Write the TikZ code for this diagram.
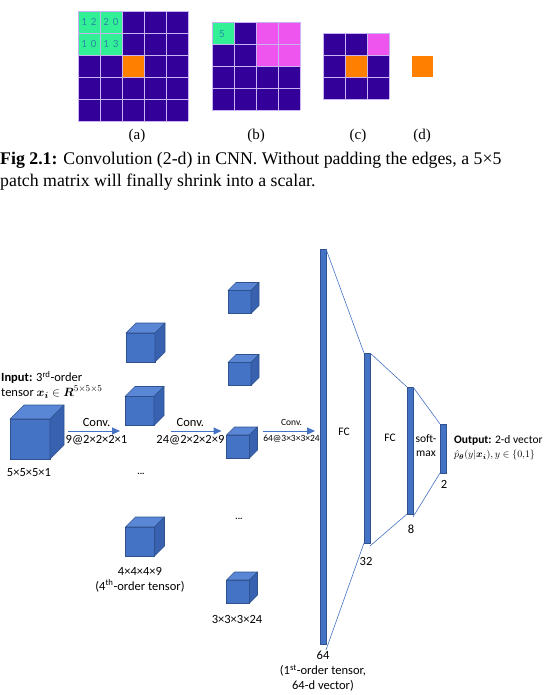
\documentclass[tikz,border=0pt]{standalone}
\usepackage{amsmath}
\usepackage{fontspec}
\setmainfont{Carlito}
\newfontfamily\capfont{Liberation Serif}
\usetikzlibrary{arrows.meta}

\definecolor{cnnblue}{HTML}{4472C4}
\definecolor{cnnedge}{HTML}{2F528F}
\definecolor{cnntop}{HTML}{5A86D6}
\definecolor{cnnside}{HTML}{3862B0}
\definecolor{gridpurple}{RGB}{51,0,153}
\definecolor{gridline}{RGB}{200,180,240}
\definecolor{gridgreen}{RGB}{50,240,150}
\definecolor{gridorange}{RGB}{255,128,0}
\definecolor{gridpink}{RGB}{238,85,238}
\definecolor{gridnum}{RGB}{40,140,165}

% cube: name, centre of front face, side, depth
\newcommand{\tcube}[4]{%
  \node[cubefront, minimum size=#3bp] (#1) at (#2) {};
  \filldraw[cubetop] (#1.north west) -- ++(#4,-#4) -- ++(#3,0) -- (#1.north east) -- cycle;
  \filldraw[cubeside] (#1.north east) -- ++(#4,-#4) -- ++(0,#3) -- (#1.south east) -- cycle;
}

\begin{document}
\begin{tikzpicture}[
    x=1bp, y=-1bp,
    cubefront/.style={draw=cnnedge, fill=cnnblue, line width=0.6bp, inner sep=0pt, outer sep=0pt},
    cubetop/.style={draw=cnnedge, fill=cnntop, line width=0.6bp, line join=round},
    cubeside/.style={draw=cnnedge, fill=cnnside, line width=0.6bp, line join=round},
    fcbar/.style={draw=cnnedge, fill=cnnblue, line width=0.5bp, minimum width=6bp, inner sep=0pt, outer sep=0pt},
    fcline/.style={draw=cnnblue, line width=0.6bp},
    convarrow/.style={draw=cnnblue, line width=1bp, -{Triangle[length=8bp,width=7bp]}, shorten >=5bp},
    lbl/.style={font=\fontsize{12.5bp}{15bp}\selectfont, inner sep=1bp, align=center},
    outfont/.style={font=\fontsize{11.5bp}{14bp}\selectfont, inner sep=1bp},
    smalllbl/.style={font=\fontsize{9.5bp}{12bp}\selectfont, inner sep=1bp},
    dots/.style={font=\fontsize{9bp}{10bp}\selectfont\bfseries, inner sep=0pt},
    cellnum/.style={font=\fontsize{11bp}{12bp}\selectfont, text=gridnum, inner sep=0pt},
    sublbl/.style={font=\capfont\fontsize{15bp}{18bp}\selectfont, inner sep=0pt},
  ]
  \useasboundingbox (0,0) rectangle (545,695);

  % ---- 2-d convolution grids ----
  \foreach \gx/\gy/\gn in {78/11/5, 212/22/4, 323/33/3}{
    \fill[gridpurple] (\gx,\gy) rectangle ++(\gn*22,\gn*22);
  }
  \fill[gridgreen] (78,11) rectangle ++(44,44);
  \fill[gridorange] (122,55) rectangle ++(22,22);
  \fill[gridgreen] (212,22) rectangle ++(22,22);
  \fill[gridpink] (256,22) rectangle ++(44,44);
  \fill[gridpink] (367,33) rectangle ++(22,22);
  \fill[gridorange] (345,55) rectangle ++(22,22);
  \fill[gridorange] (412,56) rectangle ++(21,21);
  \foreach \gx/\gy/\gn in {78/11/5, 212/22/4, 323/33/3}{
    \foreach \k in {0,...,\gn}{
      \draw[gridline, line width=0.8bp] (\gx+\k*22,\gy) -- ++(0,\gn*22);
      \draw[gridline, line width=0.8bp] (\gx,\gy+\k*22) -- ++(\gn*22,0);
    }
  }
  \node[cellnum] (na1) at (89,22) {1\hspace{4bp}2};
  \node[cellnum] (na2) at (111,22) {2\hspace{4bp}0};
  \node[cellnum] (na3) at (89,44) {1\hspace{4bp}0};
  \node[cellnum] (na4) at (111,44) {1\hspace{4bp}3};
  \node[cellnum] (nb1) at (222,34) {5};

  \node[sublbl] (suba) at (137,136) {(a)};
  \node[sublbl] (subb) at (256,136) {(b)};
  \node[sublbl] (subc) at (358,136) {(c)};
  \node[sublbl] (subd) at (422,136) {(d)};

  \node[anchor=west, inner sep=0pt, align=left,
        font=\capfont\fontsize{17.8bp}{22bp}\selectfont] (caption) at (0,171)
    {\textbf{Fig 2.1:} Convolution (2-d) in CNN. Without padding the edges, a 5×5\\
     patch matrix will finally shrink into a scalar.};

  % ---- 3-d CNN ----
  \tcube{inA}{30,439}{40}{14}
  \node[lbl] (inAlbl) at (29,473) {5×5×5×1};
  \node[lbl, anchor=west, align=left] (inlbl) at (0,385)
    {\textbf{Input:} 3\textsuperscript{rd}-order\\
     tensor $\boldsymbol{x}_{\boldsymbol{i}}\in\boldsymbol{R}^{5\times5\times5}$};

  \tcube{l2a}{140.5,347.5}{29}{10}
  \tcube{l2b}{139.5,411}{29}{10}
  \tcube{l2c}{140,541.5}{29}{10}
  \node[dots] (l2dots) at (141,474) {...};
  \node[lbl] (l2lbl) at (140,579.5) {4×4×4×9\\(4\textsuperscript{th}-order tensor)};

  \tcube{l3a}{239.5,302}{23}{8}
  \tcube{l3b}{239.5,374}{23}{8}
  \tcube{l3c}{238,446.5}{23}{8}
  \tcube{l3d}{238,591.5}{23}{8}
  \node[dots] (l3dots) at (239,519) {...};
  \node[lbl] (l3lbl) at (237,619) {3×3×3×24};

  \node[fcbar, minimum height=395bp] (fc64) at (323,446.5) {};
  \node[fcbar, minimum height=190bp] (fc32) at (367,448) {};
  \node[fcbar, minimum height=127bp] (fc8) at (410,450.5) {};
  \node[fcbar, minimum height=49bp] (fc2) at (443,448.5) {};

  \draw[fcline] (fc64.north east) -- (fc32.north west);
  \draw[fcline] ([yshift=-6bp]fc64.south east) -- (fc32.south west);
  \draw[fcline] (fc32.north east) -- (fc8.north west);
  \draw[fcline] ([yshift=-3bp]fc32.south east) -- (fc8.south west);
  \draw[fcline] (fc8.north east) -- (fc2.north west);
  \draw[fcline] ([yshift=-3bp]fc8.south east) -- (fc2.south west);

  \coordinate (ar1) at (68,431);
  \coordinate (ar2) at (171,431);
  \coordinate (ar3) at (263,431);
  \draw[convarrow] (ar1) -- (ar1 -| l2b.west)
    node[lbl, pos=0.5, above=3bp] {Conv.} node[lbl, pos=0.5, below=3bp] {9@2×2×2×1};
  \draw[convarrow] (ar2) -- (ar2 -| l3c.west)
    node[lbl, pos=0.35, above=3bp] {Conv.} node[lbl, pos=0.35, below=3bp] {24@2×2×2×9};
  \draw[convarrow] (ar3) -- (ar3 -| fc64.west)
    node[smalllbl, pos=0.5, above=4bp] {Conv.} node[smalllbl, pos=0.5, below=3bp] {64@3×3×3×24};

  \node[outfont] (fc1lbl) at (344,432) {FC};
  \node[outfont] (fc2lbl) at (390,438) {FC};
  \node[outfont, align=center] (smlbl) at (426,446) {soft-\\max};
  \node[lbl] (n2) at (444,484) {2};
  \node[lbl] (n8) at (411,529) {8};
  \node[lbl] (n32) at (366,561) {32};
  \node[lbl, anchor=north] (n64) at (323,650) {64\\(1\textsuperscript{st}-order tensor,\\64-d vector)};
  \node[outfont, anchor=west, align=left] (outlbl) at (453,448)
    {\textbf{Output:} 2-d vector\\
     {\fontsize{10.3bp}{14bp}\selectfont$\hat{p}_{\boldsymbol{\theta}}(y|\boldsymbol{x}_{\boldsymbol{i}}),y\in\{0,\!1\}$}};
\end{tikzpicture}
\end{document}
